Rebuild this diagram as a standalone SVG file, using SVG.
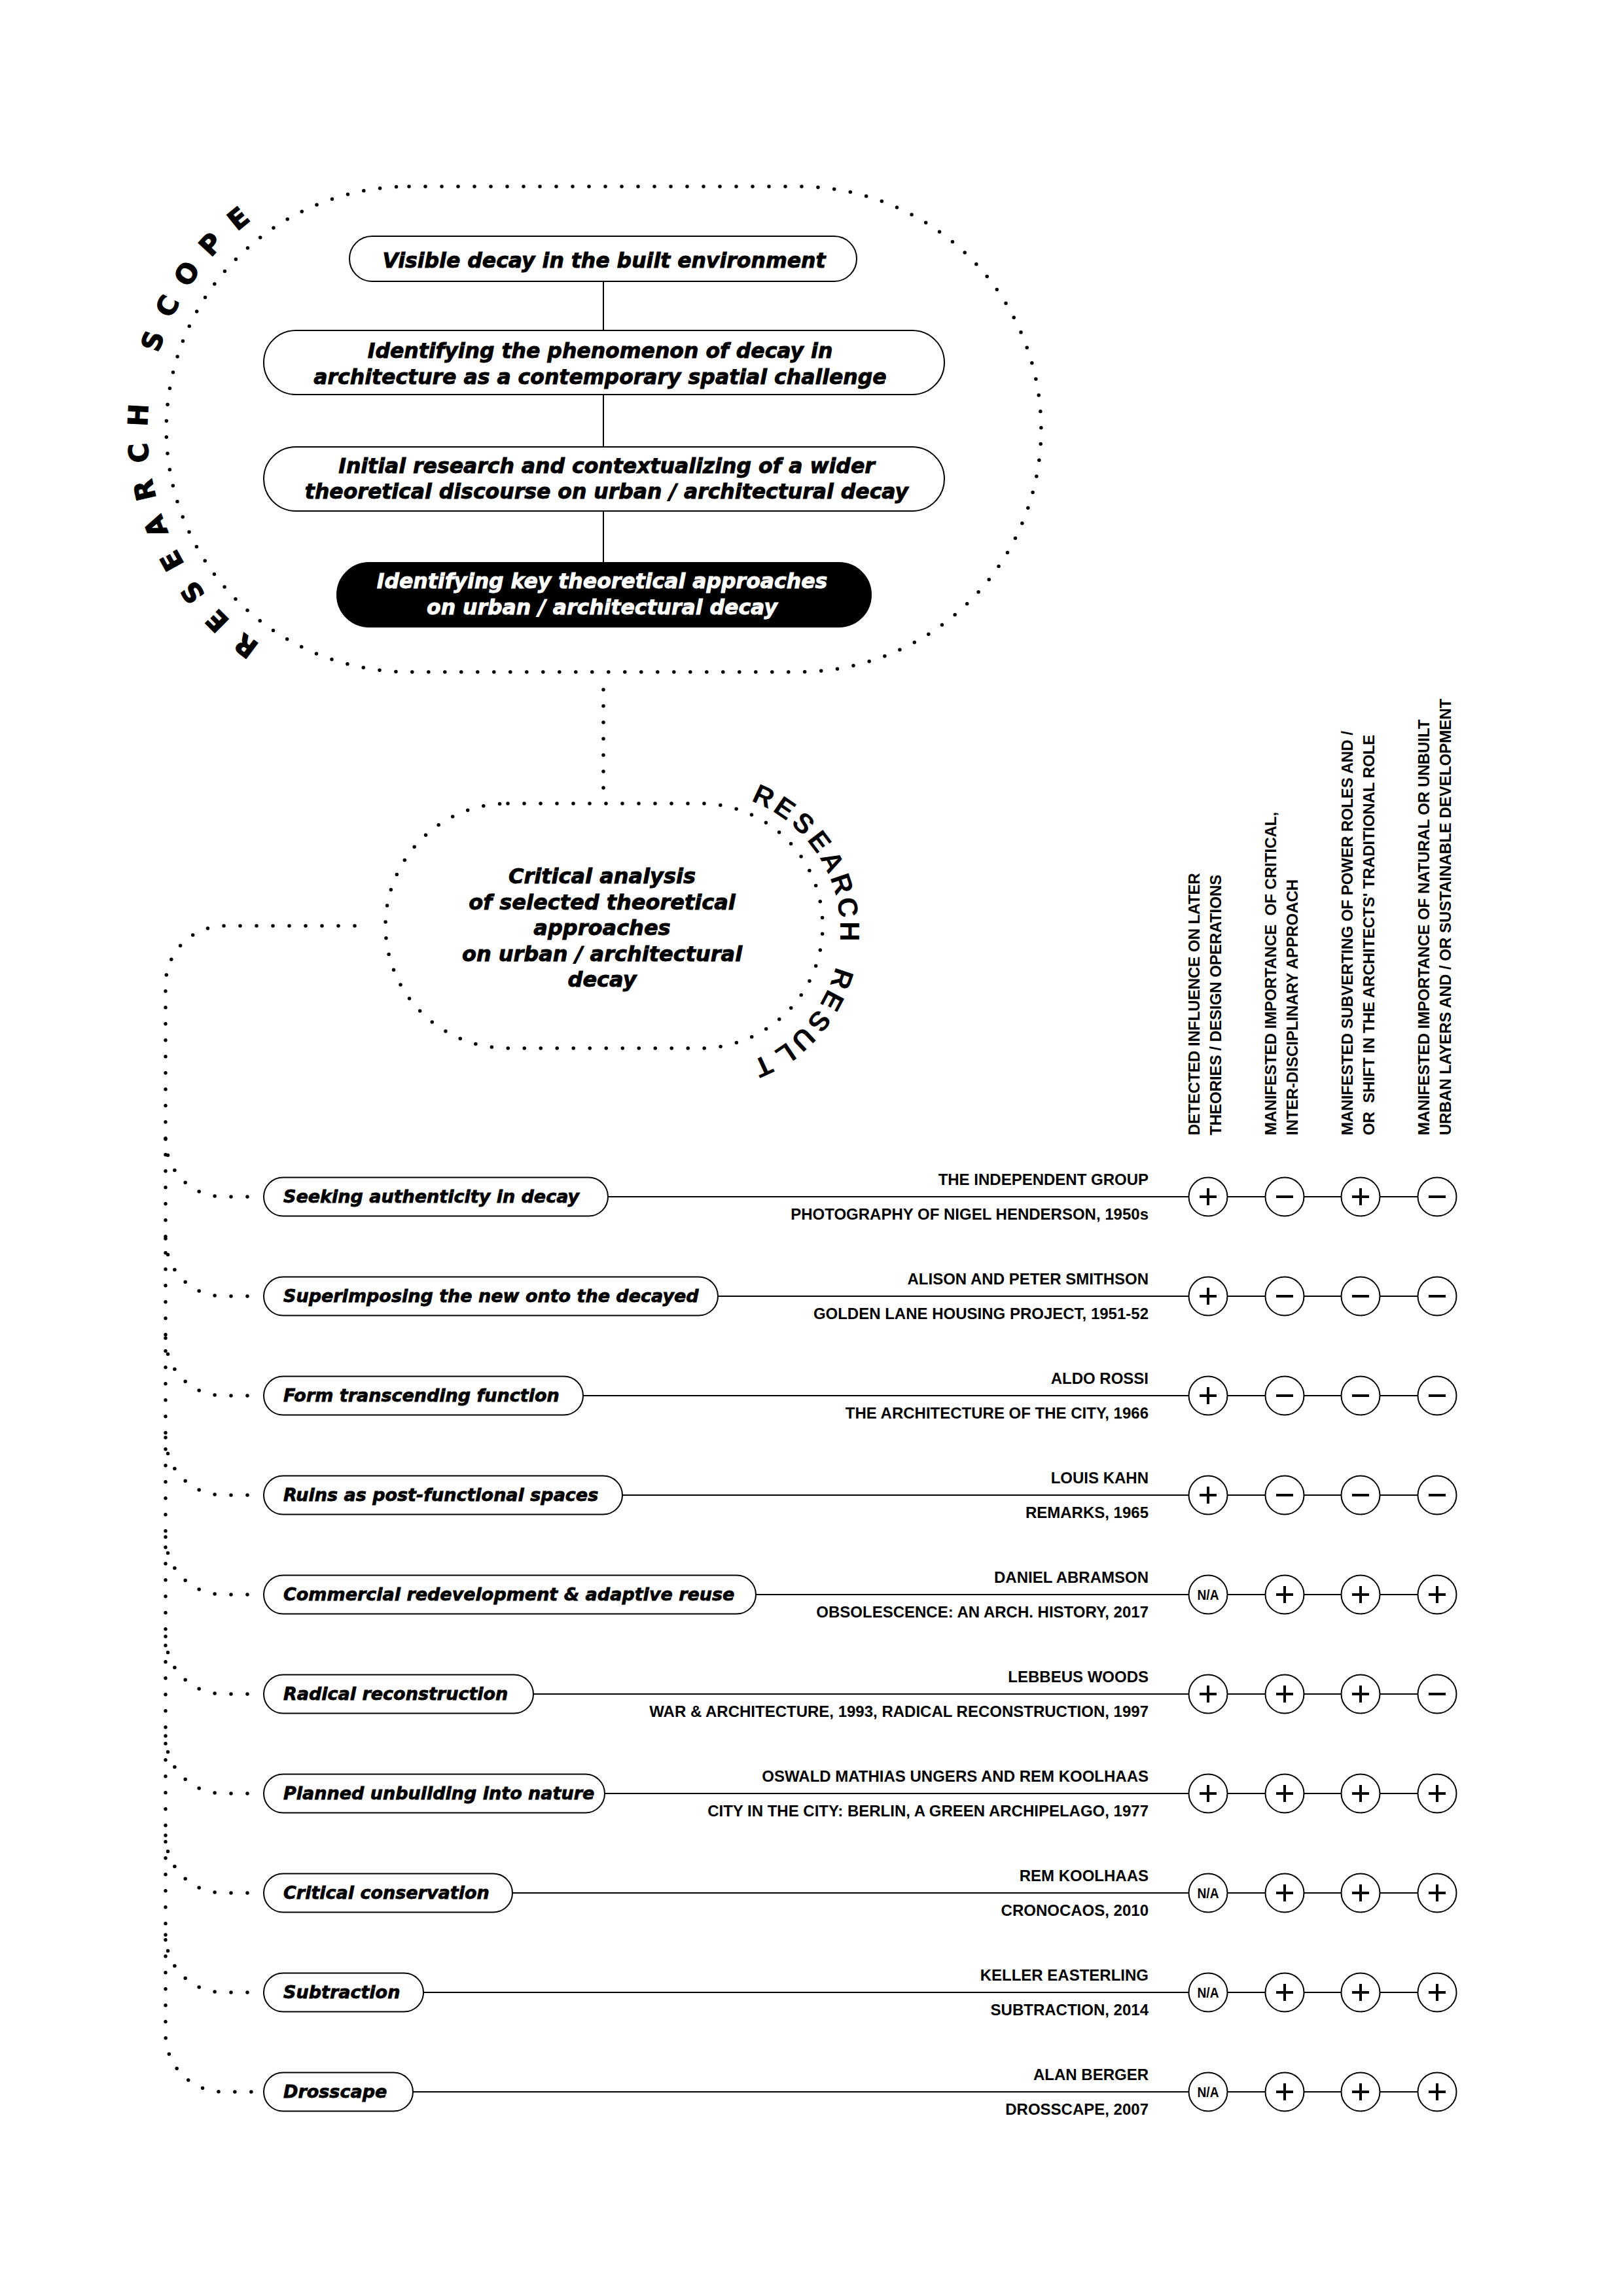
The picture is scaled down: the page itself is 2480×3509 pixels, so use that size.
<svg xmlns="http://www.w3.org/2000/svg" width="2480" height="3509" viewBox="0 0 2480 3509">
<style>
.dot{fill:none;stroke:#000;stroke-width:5.5;stroke-linecap:round;stroke-dasharray:0 25}
.ln{fill:none;stroke:#000;stroke-width:2}
.box{fill:#fff;stroke:#000;stroke-width:2}
.boxk{fill:#000;stroke:#000;stroke-width:2}
.tm{font-family:"DejaVu Sans",sans-serif;font-weight:bold;font-style:italic;font-size:31.5px;text-anchor:middle;fill:#000;stroke:#000;stroke-width:0.9}
.tw{fill:#fff;stroke:#fff}
.tr{font-family:"DejaVu Sans",sans-serif;font-weight:bold;font-style:italic;font-size:27px;fill:#000;stroke:#000;stroke-width:0.8}
.ta{font-family:"Liberation Sans",Arial,sans-serif;font-weight:bold;font-size:24px;text-anchor:end;fill:#000}
.th{font-family:"Liberation Sans",Arial,sans-serif;font-weight:bold;font-size:24px;fill:#000}
.tn{font-family:"Liberation Sans",Arial,sans-serif;font-weight:bold;font-size:22px;text-anchor:middle;fill:#000}
.sc{font-family:"DejaVu Sans",sans-serif;font-weight:bold;font-size:41px;text-anchor:middle;fill:#000;stroke:#000;stroke-width:1.2}
.rr{font-family:"Liberation Sans",Arial,sans-serif;font-weight:bold;font-size:42px;text-anchor:middle;fill:#000}
.circ{fill:#fff;stroke:#000;stroke-width:2}
.sym{stroke:#000;stroke-width:4;fill:none}
</style>
<defs>
<g id="plus"><circle r="29.5" class="circ"/><path d="M-13 0H13M0-13V13" class="sym"/></g>
<g id="minus"><circle r="29.5" class="circ"/><path d="M-13 0H13" class="sym"/></g>
<g id="na"><circle r="29.5" class="circ"/><text class="tn" y="8" textLength="33" lengthAdjust="spacingAndGlyphs">N/A</text></g>
</defs>
<rect width="2480" height="3509" fill="#fff"/>

<g id="scope-frame">
<path class="dot" d="M625 285H1220A371 371 0 0 1 1220 1027H625A371 371 0 0 1 625 285Z"/>
<g id="scope-label">
<text class="sc" y="15" transform="translate(375.3,987.4) rotate(217)">R</text>
<text class="sc" y="15" transform="translate(331.6,949.4) rotate(225)">E</text>
<text class="sc" y="15" transform="translate(293.6,905.7) rotate(233)">S</text>
<text class="sc" y="15" transform="translate(262,857.2) rotate(241)">E</text>
<text class="sc" y="15" transform="translate(237.6,804.7) rotate(249)">A</text>
<text class="sc" y="15" transform="translate(220.6,749.4) rotate(257)">R</text>
<text class="sc" y="15" transform="translate(211.6,692.2) rotate(265)">C</text>
<text class="sc" y="15" transform="translate(210.6,634.3) rotate(273)">H</text>
<text class="sc" y="15" transform="translate(232.6,520.9) rotate(289)">S</text>
<text class="sc" y="15" transform="translate(255.2,467.6) rotate(297)">C</text>
<text class="sc" y="15" transform="translate(285,418) rotate(305)">O</text>
<text class="sc" y="15" transform="translate(321.5,373) rotate(313)">P</text>
<text class="sc" y="15" transform="translate(363.8,333.5) rotate(321)">E</text>
</g>
</g>

<g id="result-frame">
<path class="dot" d="M776 1228H1070A187 187 0 0 1 1070 1602H776A187 187 0 0 1 776 1228Z"/>
<g id="result-label">
<text class="rr" y="15" transform="translate(1167.4,1216.4) rotate(25)">R</text>
<text class="rr" y="15" transform="translate(1199.5,1234.6) rotate(34.3)">E</text>
<text class="rr" y="15" transform="translate(1228.2,1257.9) rotate(43.6)">S</text>
<text class="rr" y="15" transform="translate(1252.9,1285.5) rotate(52.9)">E</text>
<text class="rr" y="15" transform="translate(1272.7,1316.7) rotate(62.2)">A</text>
<text class="rr" y="15" transform="translate(1287.2,1350.7) rotate(71.5)">R</text>
<text class="rr" y="15" transform="translate(1296.1,1386.5) rotate(80.8)">C</text>
<text class="rr" y="15" transform="translate(1299,1423.4) rotate(90.1)">H</text>
<text class="rr" y="15" transform="translate(1287,1496.1) rotate(108.7)">R</text>
<text class="rr" y="15" transform="translate(1272.3,1530) rotate(118)">E</text>
<text class="rr" y="15" transform="translate(1252.4,1561.2) rotate(127.3)">S</text>
<text class="rr" y="15" transform="translate(1227.7,1588.7) rotate(136.6)">U</text>
<text class="rr" y="15" transform="translate(1201,1611.8) rotate(145.9)">L</text>
<text class="rr" y="15" transform="translate(1166.6,1630) rotate(155.2)">T</text>
</g>
<g id="result-text">
<text class="tm" style="font-size:32px" x="920" y="1350">Critical analysis</text>
<text class="tm" style="font-size:32px" x="920" y="1389.5">of selected theoretical</text>
<text class="tm" style="font-size:32px" x="920" y="1429">approaches</text>
<text class="tm" style="font-size:32px" x="920" y="1468.5">on urban / architectural</text>
<text class="tm" style="font-size:32px" x="920" y="1508">decay</text>
</g>
</g>

<g id="connectors">
<path class="ln" d="M922 430V505M922 603V683M922 781V860"/>
<path class="dot" d="M922 1054V1205"/>
<path class="dot" d="M542 1415H343A90 90 0 0 0 253 1505V3109A88 88 0 0 0 341 3197H400"/>
<path class="dot" d="M253 1741A88 88 0 0 0 341 1829H400M253 1893A88 88 0 0 0 341 1981H400M253 2045A88 88 0 0 0 341 2133H400M253 2197A88 88 0 0 0 341 2285H400M253 2349A88 88 0 0 0 341 2437H400M253 2501A88 88 0 0 0 341 2589H400M253 2653A88 88 0 0 0 341 2741H400M253 2805A88 88 0 0 0 341 2893H400M253 2957A88 88 0 0 0 341 3045H400"/>
<path class="ln" d="M929 1829H2196M1097 1981H2196M891 2133H2196M951 2285H2196M1155 2437H2196M815 2589H2196M924 2741H2196M783 2893H2196M647 3045H2196M631 3197H2196"/>
</g>

<g id="step1">
<rect class="box" x="534" y="361" width="775" height="69" rx="34.5"/>
<text class="tm" x="923" y="409">Visible decay in the built environment</text>
</g>
<g id="step2">
<rect class="box" x="403" y="505" width="1040" height="98" rx="49"/>
<text class="tm" x="917" y="547">Identifying the phenomenon of decay in</text>
<text class="tm" x="917" y="587">architecture as a contemporary spatial challenge</text>
</g>
<g id="step3">
<rect class="box" x="403" y="683" width="1040" height="98" rx="49"/>
<text class="tm" x="927" y="723">Initial research and contextualizing of a wider</text>
<text class="tm" x="927" y="762">theoretical discourse on urban / architectural decay</text>
</g>
<g id="step4">
<rect class="boxk" x="515" y="860" width="816" height="98" rx="49"/>
<text class="tm tw" x="920" y="899">Identifying key theoretical approaches</text>
<text class="tm tw" x="920" y="939">on urban / architectural decay</text>
</g>

<g id="headers">
<text class="th" transform="translate(1833,1735) rotate(-90)">DETECTED INFLUENCE ON LATER</text>
<text class="th" transform="translate(1866,1735) rotate(-90)">THEORIES / DESIGN OPERATIONS</text>
<text class="th" transform="translate(1950,1735) rotate(-90)">MANIFESTED IMPORTANCE &#160;OF CRITICAL,</text>
<text class="th" transform="translate(1983,1735) rotate(-90)">INTER-DISCIPLINARY APPROACH</text>
<text class="th" transform="translate(2067,1735) rotate(-90)">MANIFESTED SUBVERTING OF POWER ROLES AND /</text>
<text class="th" transform="translate(2100,1735) rotate(-90)">OR &#160;SHIFT IN THE ARCHITECTS' TRADITIONAL ROLE</text>
<text class="th" transform="translate(2184,1735) rotate(-90)">MANIFESTED IMPORTANCE OF NATURAL OR UNBUILT</text>
<text class="th" transform="translate(2217,1735) rotate(-90)">URBAN LAYERS AND / OR SUSTAINABLE DEVELOPMENT</text>
</g>

<g id="row1">
<rect class="box" x="403" y="1799.5" width="526" height="59" rx="29.5"/>
<text class="tr" x="433" y="1838">Seeking authenticity in decay</text>
<text class="ta" x="1755" y="1811">THE INDEPENDENT GROUP</text>
<text class="ta" x="1755" y="1864">PHOTOGRAPHY OF NIGEL HENDERSON, 1950s</text>
<use href="#plus" x="1846" y="1829"/><use href="#minus" x="1963" y="1829"/><use href="#plus" x="2079" y="1829"/><use href="#minus" x="2196" y="1829"/>
</g>
<g id="row2">
<rect class="box" x="403" y="1951.5" width="694" height="59" rx="29.5"/>
<text class="tr" x="433" y="1990">Superimposing the new onto the decayed</text>
<text class="ta" x="1755" y="1963">ALISON AND PETER SMITHSON</text>
<text class="ta" x="1755" y="2016">GOLDEN LANE HOUSING PROJECT, 1951-52</text>
<use href="#plus" x="1846" y="1981"/><use href="#minus" x="1963" y="1981"/><use href="#minus" x="2079" y="1981"/><use href="#minus" x="2196" y="1981"/>
</g>
<g id="row3">
<rect class="box" x="403" y="2103.5" width="488" height="59" rx="29.5"/>
<text class="tr" x="433" y="2142">Form transcending function</text>
<text class="ta" x="1755" y="2115">ALDO ROSSI</text>
<text class="ta" x="1755" y="2168">THE ARCHITECTURE OF THE CITY, 1966</text>
<use href="#plus" x="1846" y="2133"/><use href="#minus" x="1963" y="2133"/><use href="#minus" x="2079" y="2133"/><use href="#minus" x="2196" y="2133"/>
</g>
<g id="row4">
<rect class="box" x="403" y="2255.5" width="548" height="59" rx="29.5"/>
<text class="tr" x="433" y="2294">Ruins as post-functional spaces</text>
<text class="ta" x="1755" y="2267">LOUIS KAHN</text>
<text class="ta" x="1755" y="2320">REMARKS, 1965</text>
<use href="#plus" x="1846" y="2285"/><use href="#minus" x="1963" y="2285"/><use href="#minus" x="2079" y="2285"/><use href="#minus" x="2196" y="2285"/>
</g>
<g id="row5">
<rect class="box" x="403" y="2407.5" width="752" height="59" rx="29.5"/>
<text class="tr" x="433" y="2446">Commercial redevelopment &amp; adaptive reuse</text>
<text class="ta" x="1755" y="2419">DANIEL ABRAMSON</text>
<text class="ta" x="1755" y="2472">OBSOLESCENCE: AN ARCH. HISTORY, 2017</text>
<use href="#na" x="1846" y="2437"/><use href="#plus" x="1963" y="2437"/><use href="#plus" x="2079" y="2437"/><use href="#plus" x="2196" y="2437"/>
</g>
<g id="row6">
<rect class="box" x="403" y="2559.5" width="412" height="59" rx="29.5"/>
<text class="tr" x="433" y="2598">Radical reconstruction</text>
<text class="ta" x="1755" y="2571">LEBBEUS WOODS</text>
<text class="ta" x="1755" y="2624">WAR &amp; ARCHITECTURE, 1993, RADICAL RECONSTRUCTION, 1997</text>
<use href="#plus" x="1846" y="2589"/><use href="#plus" x="1963" y="2589"/><use href="#plus" x="2079" y="2589"/><use href="#minus" x="2196" y="2589"/>
</g>
<g id="row7">
<rect class="box" x="403" y="2711.5" width="521" height="59" rx="29.5"/>
<text class="tr" x="433" y="2750">Planned unbuilding into nature</text>
<text class="ta" x="1755" y="2723">OSWALD MATHIAS UNGERS AND REM KOOLHAAS</text>
<text class="ta" x="1755" y="2776">CITY IN THE CITY: BERLIN, A GREEN ARCHIPELAGO, 1977</text>
<use href="#plus" x="1846" y="2741"/><use href="#plus" x="1963" y="2741"/><use href="#plus" x="2079" y="2741"/><use href="#plus" x="2196" y="2741"/>
</g>
<g id="row8">
<rect class="box" x="403" y="2863.5" width="380" height="59" rx="29.5"/>
<text class="tr" x="433" y="2902">Critical conservation</text>
<text class="ta" x="1755" y="2875">REM KOOLHAAS</text>
<text class="ta" x="1755" y="2928">CRONOCAOS, 2010</text>
<use href="#na" x="1846" y="2893"/><use href="#plus" x="1963" y="2893"/><use href="#plus" x="2079" y="2893"/><use href="#plus" x="2196" y="2893"/>
</g>
<g id="row9">
<rect class="box" x="403" y="3015.5" width="244" height="59" rx="29.5"/>
<text class="tr" x="433" y="3054">Subtraction</text>
<text class="ta" x="1755" y="3027">KELLER EASTERLING</text>
<text class="ta" x="1755" y="3080">SUBTRACTION, 2014</text>
<use href="#na" x="1846" y="3045"/><use href="#plus" x="1963" y="3045"/><use href="#plus" x="2079" y="3045"/><use href="#plus" x="2196" y="3045"/>
</g>
<g id="row10">
<rect class="box" x="403" y="3167.5" width="228" height="59" rx="29.5"/>
<text class="tr" x="433" y="3206">Drosscape</text>
<text class="ta" x="1755" y="3179">ALAN BERGER</text>
<text class="ta" x="1755" y="3232">DROSSCAPE, 2007</text>
<use href="#na" x="1846" y="3197"/><use href="#plus" x="1963" y="3197"/><use href="#plus" x="2079" y="3197"/><use href="#plus" x="2196" y="3197"/>
</g>
</svg>
